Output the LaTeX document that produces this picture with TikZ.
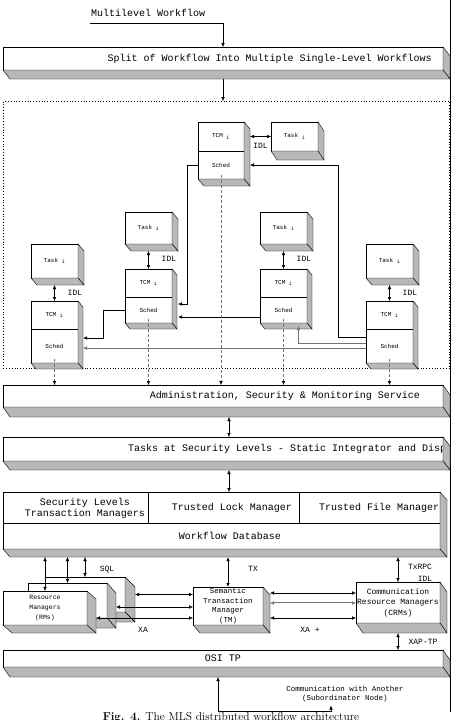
\documentclass[tikz,border=0pt]{standalone}
\usepackage{fontspec}
\setmonofont{Liberation Mono}
\usetikzlibrary{calc,arrows.meta}
\definecolor{facegray}{gray}{0.72}
\definecolor{linegray}{gray}{0.45}

\tikzset{
  wh/.style 2 args={minimum width=#1,minimum height=#2},
  bar/.style={draw,semithick,fill=white,anchor=north west,inner sep=0pt,outer sep=0pt},
  box/.style={draw,semithick,fill=white,anchor=north west,inner sep=0pt,outer sep=0pt,
    font=\ttfamily\fontsize{6}{7}\selectfont},
  lbl/.style={font=\ttfamily\fontsize{8}{9}\selectfont,inner sep=1pt},
  big/.style={font=\ttfamily\fontsize{10}{11}\selectfont,inner sep=1pt}}

% right face and bottom face of a raised block (#1 top node, #2 bottom node)
\newcommand{\extrude}[4]{%
  \filldraw[fill=facegray] (#1.north east) -- ++(#3,#4) -- ($(#2.south east)+(#3,#4)$) -- (#2.south east) -- cycle;
  \filldraw[fill=facegray] (#2.south west) -- ++(#3,#4) -- ($(#2.south east)+(#3,#4)$) -- (#2.south east) -- cycle;}

\begin{document}
\begin{tikzpicture}[x=1pt,y=-1pt,>={Latex[length=4pt,width=3.5pt]}]

\useasboundingbox (0,0) rectangle (456,720);
\fill[white] (0,0) rectangle (456,720);
\draw[semithick] (450,0) -- (450,712);

% top
\node[big,anchor=west] (input) at (90,13) {Multilevel Workflow};
\node[bar,wh={440}{23}] (split) at (3,47) {};
\node[big,anchor=east] (splittext) at (433,58.5) {Split of Workflow Into Multiple Single-Level Workflows};
\extrude{split}{split}{7}{9}
\draw[->] ([yshift=-5pt]input.south west) -| (split.north);

\node[draw,dotted,thick,anchor=north west,wh={446}{267}] (cells) at (3,101) {};
\draw[->] ([yshift=-9pt]split.south) -- (split.south |- cells.north);

% service bars
\node[bar,wh={440}{22}] (admin) at (3,385) {};
\node[big,anchor=east] (admintext) at (421,396) {Administration, Security \& Monitoring Service};
\extrude{admin}{admin}{7}{10}

\node[bar,wh={440}{24}] (tasks) at (3,437) {};
\begin{scope}
  \clip (tasks.north west) rectangle (tasks.south east);
  \node[big,anchor=west] (taskstext) at (127,449) {Tasks at Security Levels - Static Integrator and Dispatcher};
\end{scope}
\extrude{tasks}{tasks}{7}{9}
\draw[<->] ([xshift=6pt,yshift=-10pt]admin.south) -- ([xshift=6pt]tasks.north);

% top TCM
\node[box,wh={46}{29}] (tcmT) at (198,122) {TCM \textsubscript{i}};
\node[box,wh={46}{28},anchor=north] (schT) at (tcmT.south) {Sched};
\extrude{tcmT}{schT}{6}{7}
\node[box,wh={47}{29}] (taskT) at (271,122) {Task \textsubscript{i}};
\extrude{taskT}{taskT}{6}{9}
\draw[<->] ([xshift=6pt]tcmT.east) -- (taskT.west) node[lbl,midway,below=6pt] (idlT) {IDL};

\foreach \n/\x/\ty/\th/\y/\sh in {L1/31/244/34/301/34, L2/125/212/32/269/26,
    R2/260/212/32/269/26, R1/366/244/34/301/34}{
  \node[box,wh={47}{\th}] (task\n) at (\x,\ty) {Task \textsubscript{i}};
  \extrude{task\n}{task\n}{6}{7}
  \node[box,wh={47}{28}] (tcm\n) at (\x,\y) {TCM \textsubscript{i}};
  \node[box,wh={47}{\sh},anchor=north] (sch\n) at (tcm\n.south) {Sched};
  \extrude{tcm\n}{sch\n}{5}{6}
  \draw[<->] ([yshift=-7pt]task\n.south) -- (tcm\n.north);
  \node[lbl,anchor=west] (idl\n) at ([xshift=12pt,yshift=-15pt]task\n.south) {IDL};
}

% scheduler links
\draw[->] (schT.west) -- ++(-11,0) |- ([xshift=6pt,yshift=6pt]schL2.east);
\draw[->] ([yshift=9pt]schR1.west) -- ++(-28,0) |- ([xshift=6pt]schT.east);
\draw[linegray,->] ([yshift=3pt]schR1.west) -| ([xshift=15pt,yshift=-3pt]schR2.south);
\draw[linegray,->] ([yshift=-2pt]schR1.west) -- ([xshift=5pt,yshift=-2pt]schL1.east);
\draw[thick,->] (schL2.west) -- ++(-22,0) |- ([xshift=5pt,yshift=8pt]schL1.east);
\draw[thick,->] ([yshift=-7pt]schR2.west) -- ([xshift=6pt,yshift=-7pt]schL2.east);

\foreach \n in {T,L1,L2,R2,R1}
  \draw[densely dashed,linegray,-{Latex[length=4pt,width=3.5pt,black]}] ([yshift=4pt]sch\n.south) -- (sch\n.south |- admin.north);

% database
\node[bar,wh={145}{31}] (seclvl) at (3,492) {};
\node[bar,wh={151}{31}] (lockmgr) at (148,492) {};
\node[bar,wh={141}{31}] (filemgr) at (299,492) {};
\node[bar,wh={437}{26}] (wfdb) at (3,523) {};
\node[big,align=center] (seclvltext) at (85,508) {Security Levels\\Transaction Managers};
\node[big] (lockmgrtext) at (232,508) {Trusted Lock Manager};
\node[big,anchor=west] (filemgrtext) at (318,508) {Trusted File Manager};
\node[big] (wfdbtext) at (230,536) {Workflow Database};
\extrude{filemgr}{wfdb}{7}{8}
\coordinate (dbt) at (wfdb.north |- seclvl.north);
\draw[<->] ([xshift=6pt,yshift=-9pt]tasks.south) -- ([xshift=7.5pt]dbt);
\coordinate (dbb) at ([yshift=-8pt]wfdb.south);

% resource managers
\node[box,wh={80}{35}] (rmC) at (45,577) {};
\extrude{rmC}{rmC}{10}{10}
\node[box,wh={79}{35}] (rmB) at (28,583) {};
\extrude{rmB}{rmB}{9}{10}
\node[box,wh={84}{34},align=center,font=\ttfamily\fontsize{6.5}{10}\selectfont] (rmA) at (3,591) {Resource\\Managers\\(RMs)};
\extrude{rmA}{rmA}{9}{8}
\draw[<->] (rmA.north) -- (rmA.north |- dbb);
\draw[<->] (rmB.north) -- (rmB.north |- dbb);
\draw[<->] (rmC.north) -- (rmC.north |- dbb);
\node[lbl] (sql) at (107,570) {SQL};

\node[box,wh={70}{38},align=center,font=\ttfamily\fontsize{7.5}{9.5}\selectfont] (stm) at (193,587) {Semantic\\Transaction\\Manager\\(TM)};
\extrude{stm}{stm}{7}{8}
\draw[thick,<->] (stm.north) -- (stm.north |- dbb);
\node[lbl] (tx) at (253,569) {TX};

\draw[<->] ([xshift=10pt]rmC.east) -- (stm.west |- rmC.east);
\draw[<->] ($(rmB.east)+(9,6.5)$) -- ($(stm.west |- rmB.east)+(0,6.5)$);
\draw[<->] ($(rmA.east)+(9,10)$) -- ($(stm.west |- rmA.east)+(0,10)$);
\node[lbl] (xa) at (143,630) {XA};

\node[box,wh={84}{41},align=center,font=\ttfamily\fontsize{8}{10.5}\selectfont] (crm) at (356,582) {Communication\\Resource Managers\\(CRMs)};
\extrude{crm}{crm}{7}{10}
\draw[<->] ($(stm.east)+(7,-13)$) -- ($(crm.west |- stm.east)+(0,-13)$);
\draw[linegray,double,<->] ($(stm.east)+(7,-3)$) -- ($(crm.west |- stm.east)+(0,-3)$);
\draw[<->] ($(stm.east)+(7,12)$) -- ($(crm.west |- stm.east)+(0,12)$);
\node[lbl] (xaplus) at (310,630) {XA +};
\draw[<->] (crm.north) -- (crm.north |- dbb);
\node[lbl] (txrpc) at (420,567) {TxRPC};
\node[lbl] (idlcrm) at (425,579) {IDL};

% OSI TP
\node[bar,wh={440}{17},big] (osi) at (3,650) {OSI TP};
\extrude{osi}{osi}{7}{10}
\draw[<->] ([yshift=-10pt]crm.south) -- (crm.south |- osi.north);
\node[lbl] (xaptp) at (423,642) {XAP-TP};
\coordinate (osib) at ([xshift=-5pt,yshift=-10pt]osi.south);
\node[align=center,font=\ttfamily\fontsize{7.5}{9}\selectfont] (comm) at (345,694) {Communication with Another\\(Subordinator Node)};
\draw[<->] ([xshift=-14pt]comm.south) -- ++(0,6) -| (osib);

\node[font=\rmfamily\fontsize{11.5}{13}\selectfont,anchor=base] (caption) at (231,720) {\textbf{Fig. 4.} The MLS distributed workflow architecture};

\end{tikzpicture}
\end{document}
